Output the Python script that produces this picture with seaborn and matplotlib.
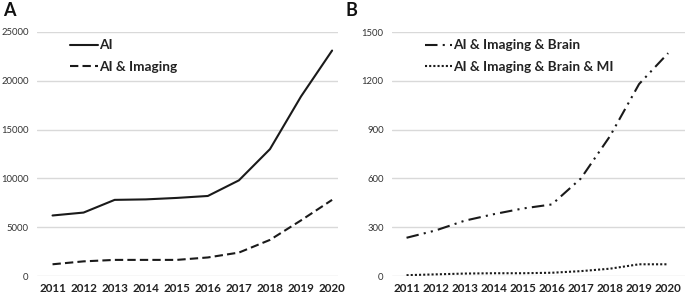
import matplotlib
matplotlib.use("Agg")
import matplotlib.pyplot as plt
import seaborn as sns
import pandas as pd

years = ["2011", "2012", "2013", "2014", "2015", "2016", "2017", "2018", "2019", "2020"]
ai = [6200, 6500, 7800, 7850, 8000, 8200, 9800, 13000, 18400, 23100]
ai_imaging = [1200, 1500, 1650, 1650, 1650, 1900, 2400, 3700, 5700, 7800]
ai_img_brain = [235, 280, 340, 380, 415, 440, 600, 860, 1180, 1370]
ai_img_brain_mi = [5, 10, 15, 17, 17, 20, 30, 45, 72, 72]

left_ticks = [0, 5000, 10000, 15000, 20000, 25000]
right_ticks = [0, 300, 600, 900, 1200, 1500]

sns.set_theme(style="white")
plt.rcParams['font.family'] = ['Lato', 'DejaVu Sans']

fig = plt.figure(figsize=(6.85, 2.97), dpi=100)
W, H = 685, 297
axA = fig.add_axes([37 / W, 1 - 276 / H, (338 - 37) / W, (276 - 32) / H])
axB = fig.add_axes([392 / W, 1 - 276 / H, (685 - 392) / W, (276 - 32) / H])

df = pd.DataFrame({"year": years, "AI": ai, "AI & Imaging": ai_imaging,
                   "AI & Imaging & Brain": ai_img_brain,
                   "AI & Imaging & Brain & MI": ai_img_brain_mi})
df["x"] = range(len(years))

col = "#1a1a1a"
sns.lineplot(data=df, x="x", y="AI", ax=axA, color=col, lw=1.5, label="AI")
sns.lineplot(data=df, x="x", y="AI & Imaging", ax=axA, color=col, lw=1.5,
             linestyle=(0, (4, 2)), label="AI & Imaging")
sns.lineplot(data=df, x="x", y="AI & Imaging & Brain", ax=axB, color=col, lw=1.5,
             linestyle=(0, (6, 2.5, 1, 2.5, 1, 2.5)), label="AI & Imaging & Brain")
sns.lineplot(data=df, x="x", y="AI & Imaging & Brain & MI", ax=axB, color=col, lw=1.5,
             linestyle=(0, (1, 1)), label="AI & Imaging & Brain & MI")

for ax, ticks, xr in [(axA, left_ticks, 9.19), (axB, right_ticks, 9.58)]:
    ax.set_xlim(-0.5, xr)
    ax.set_ylim(ticks[0], ticks[-1])
    ax.set_yticks(ticks)
    ax.set_yticklabels([str(t) for t in ticks], fontsize=6.8, color="#333333")
    ax.set_xticks(range(len(years)))
    ax.set_xticklabels(years, fontsize=8.4, fontweight="bold", color="#222222")
    ax.set_xlabel("")
    ax.set_ylabel("")
    ax.grid(axis="y", color="#d9d9d9", lw=1)
    ax.set_axisbelow(True)
    for s in ax.spines.values():
        s.set_visible(False)
    ax.tick_params(axis="y", length=0, pad=6)
    ax.tick_params(axis="x", length=0, pad=5)
    leg = ax.legend(loc="upper left", bbox_to_anchor=(0.07, 1.02), frameon=False,
                    fontsize=9.8, handlelength=2.0, handletextpad=0.1, labelspacing=0.7)
    for t in leg.get_texts():
        t.set_fontweight("bold")
        t.set_color("#222222")

fig.text(3 / W, 1 - 10 / H, "A", fontsize=13, fontweight="bold", va="center", ha="left", color="#111111")
fig.text(345 / W, 1 - 10 / H, "B", fontsize=13, fontweight="bold", va="center", ha="left", color="#111111")

fig.savefig("out.png", dpi=100)
